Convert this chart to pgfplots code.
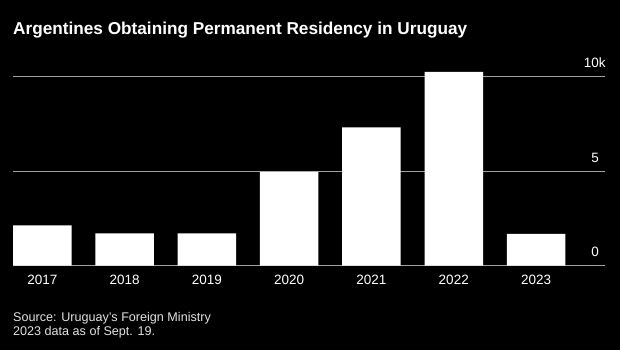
\documentclass[border=0pt]{standalone}
\usepackage{pgfplots}
\pgfplotsset{compat=1.18}
\usepackage{fontspec}
\setmainfont{Liberation Sans}
\definecolor{gridgray}{RGB}{160,160,160}
\definecolor{srcgray}{RGB}{225,225,225}
\begin{document}
\begin{tikzpicture}[x=1pt,y=1pt]
\fill[black] (0,0) rectangle (620,350);
\useasboundingbox (0,0) rectangle (620,350);
\node[anchor=base west, text=white, inner sep=0pt, font=\fontsize{17.2}{20}\selectfont\bfseries] at (13,315) {Argentines Obtaining Permanent Residency in Uruguay};
\node[anchor=base west, text=srcgray, inner sep=0pt, font=\fontsize{12.6}{14}\selectfont] at (13,28.7) {Source: Uruguay's Foreign Ministry};
\node[anchor=base west, text=srcgray, inner sep=0pt, font=\fontsize{12.6}{14}\selectfont] at (13,14) {2023 data as of Sept. 19.};
\begin{axis}[
  at={(13pt,84.3pt)}, anchor=south west,
  scale only axis, width=592pt, height=198.45pt,
  xmin=-0.356, xmax=6.838, ymin=0, ymax=10.5,
  axis line style={draw=none},
  tick style={draw=none},
  xtick=data,
  xticklabels={2017,2018,2019,2020,2021,2022,2023},
  xticklabel style={anchor=north, inner sep=0pt, yshift=-9pt, text=white, font=\fontsize{13.5}{15}\selectfont},
  ytick={0,5,10},
  yticklabels={0,5,10\rlap{k}},
  yticklabel pos=right,
  yticklabel style={anchor=south east, inner sep=0pt, xshift=-6pt, yshift=8.5pt, text=white, font=\fontsize{13.5}{15}\selectfont},
  ymajorgrids,
  grid style={gridgray, line width=0.9pt},
  clip=false,
]
\addplot[ybar, bar width=58.5pt, fill=white, draw=none] coordinates {
  (0,2.13) (1,1.71) (2,1.71) (3,4.97) (4,7.32) (5,10.26) (6,1.69)
};
\end{axis}
\end{tikzpicture}
\end{document}
